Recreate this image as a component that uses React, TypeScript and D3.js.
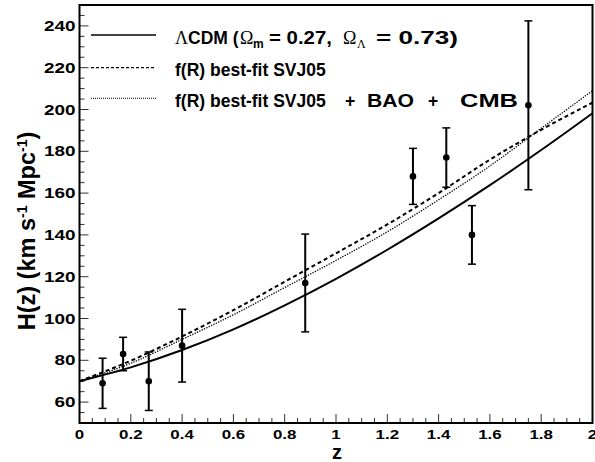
import React from "react";
import * as d3 from "d3";

// curves at z = 0, 0.2, ... 2
const zGrid = [0, 0.2, 0.4, 0.6, 0.8, 1.0, 1.2, 1.4, 1.6, 1.8, 2.0];
const hLCDM = [70, 76.6, 84.9, 94.8, 106.3, 119.0, 132.9, 147.9, 163.8, 180.6, 198.2];
const hSVJ05 = [70, 79.8, 91.4, 104.0, 117.6, 131.2, 145.0, 160.0, 176.0, 190.3, 203.3];
const hSVJ05BaoCmb = [70, 78.6, 90.0, 101.8, 114.8, 127.8, 141.5, 156.8, 173.0, 191.0, 209.0];

// H(z) measurements
const zData = [0.09, 0.17, 0.27, 0.4, 0.88, 1.3, 1.43, 1.53, 1.75];
const hData = [69, 83, 70, 87, 117, 168, 177, 140, 202];
const hErr = [12, 8, 14, 17.4, 23.4, 13.4, 14.2, 14, 40.4];

const xTicks = [0, 0.2, 0.4, 0.6, 0.8, 1, 1.2, 1.4, 1.6, 1.8, 2];
const xTickLabels = ["0", "0.2", "0.4", "0.6", "0.8", "1", "1.2", "1.4", "1.6", "1.8", "2"];
const yTicks = [60, 80, 100, 120, 140, 160, 180, 200, 220, 240];

const legendLabels = ["lcdm", "svj05", "svj05bao"];

function App() {
  const width = 595;
  const height = 462;
  const font = "'Liberation Sans', Arial, Helvetica, sans-serif";
  const serif = "'Liberation Serif', 'Times New Roman', serif";

  const x = d3.scaleLinear().domain([0, 2]).range([79.5, 592.5]);
  const y = d3.scaleLinear().domain([50, 250]).range([423, 5]);

  const line = d3
    .line<number>()
    .x((d, i) => x(zGrid[i]))
    .y((d) => y(d))
    .curve(d3.curveMonotoneX);

  const series = [
    { values: hLCDM, width: 2, dash: "none" },
    { values: hSVJ05, width: 2, dash: "4 3" },
    { values: hSVJ05BaoCmb, width: 1.3, dash: "1.3 1.3" },
  ];
  const legendStyle = [
    { width: 1.4, dash: "none" },
    { width: 1.2, dash: "3 2" },
    { width: 1, dash: "1 1" },
  ];
  const legendY = [35, 67.7, 98.3];
  const legendBase = [44, 76, 106.5];

  const majorX = new Set(xTicks.map((t) => t.toFixed(2)));
  const majorY = new Set(yTicks.map((t) => t.toFixed(1)));

  return (
    <svg
      width={width}
      height={height}
      style={{ position: "absolute", left: 0, top: 0, background: "#fff" }}
      fontFamily={font}
      fontWeight="bold"
    >
      {/* minor + major ticks on x */}
      {x.ticks(40).map((t, i) => (
        <line
          key={"xt" + i}
          x1={x(t)}
          x2={x(t)}
          y1={y(50)}
          y2={y(50) - (majorX.has(t.toFixed(2)) ? 9 : 5)}
          stroke="#333"
          strokeWidth={1}
        />
      ))}
      {y.ticks(40).map((t, i) =>
        t < 50 || t > 250 ? null : (
          <line
            key={"yt" + i}
            x1={x(0)}
            x2={x(0) + (majorY.has(t.toFixed(1)) ? 9 : 5)}
            y1={y(t)}
            y2={y(t)}
            stroke="#333"
            strokeWidth={1}
          />
        )
      )}
      {/* frame */}
      <rect
        x={x(0)}
        y={y(250)}
        width={x(2) - x(0)}
        height={y(50) - y(250)}
        fill="none"
        stroke="#000"
        strokeWidth={2}
      />

      {/* tick labels */}
      {xTicks.map((t, i) => (
        <text
          key={"xl" + i}
          transform={`translate(${x(t)},438.5) scale(1.3,1)`}
          textAnchor="middle"
          fontSize={13}
        >
          {xTickLabels[i]}
        </text>
      ))}
      {yTicks.map((t, i) => (
        <text
          key={"yl" + i}
          transform={`translate(75.5,${y(t)}) scale(1.35,1)`}
          textAnchor="end"
          dy="0.36em"
          fontSize={14}
        >
          {t}
        </text>
      ))}

      {/* axis titles */}
      <text x={337} y={459} textAnchor="middle" fontSize={20}>
        z
      </text>
      <text
        transform="translate(35,231) rotate(-90)"
        textAnchor="middle"
        fontSize={23.5}
      >
        H(z) (km s
        <tspan dy={-8} fontSize={14}>
          -1
        </tspan>
        <tspan dy={8}> Mpc</tspan>
        <tspan dy={-8} fontSize={14}>
          -1
        </tspan>
        <tspan dy={8}>)</tspan>
      </text>

      {/* model curves */}
      {series.map((s, i) => (
        <path
          key={"c" + i}
          d={line(s.values) || ""}
          fill="none"
          stroke="#000"
          strokeWidth={s.width}
          strokeDasharray={s.dash}
        />
      ))}

      {/* data with error bars */}
      {zData.map((z, i) => (
        <g key={"p" + i}>
          <line
            x1={x(z)}
            x2={x(z)}
            y1={y(hData[i] - hErr[i])}
            y2={y(hData[i] + hErr[i])}
            stroke="#000"
            strokeWidth={2}
          />
          <line
            x1={x(z) - 4}
            x2={x(z) + 4}
            y1={y(hData[i] - hErr[i])}
            y2={y(hData[i] - hErr[i])}
            stroke="#000"
            strokeWidth={1.5}
          />
          <line
            x1={x(z) - 4}
            x2={x(z) + 4}
            y1={y(hData[i] + hErr[i])}
            y2={y(hData[i] + hErr[i])}
            stroke="#000"
            strokeWidth={1.5}
          />
          <circle cx={x(z)} cy={y(hData[i])} r={3.3} fill="#000" />
        </g>
      ))}

      {/* legend */}
      {legendLabels.map((k, i) => (
        <line
          key={k}
          x1={91}
          x2={156}
          y1={legendY[i]}
          y2={legendY[i]}
          stroke="#000"
          strokeWidth={legendStyle[i].width}
          strokeDasharray={legendStyle[i].dash}
        />
      ))}
      <g fontSize={17.5}>
        <text x={175} y={legendBase[0]} fontFamily={serif} fontWeight="normal" fontSize={18}>
          Λ
        </text>
        <text x={188} y={legendBase[0]}>
          CDM (
        </text>
        <text x={240} y={legendBase[0]} fontFamily={serif} fontWeight="normal" fontSize={18}>
          Ω
        </text>
        <text x={253} y={legendBase[0] + 4} fontSize={12}>
          m
        </text>
        <text x={269} y={legendBase[0]} textLength={63} lengthAdjust="spacingAndGlyphs">
          = 0.27,
        </text>
        <text x={343} y={legendBase[0]} fontFamily={serif} fontWeight="normal" fontSize={18}>
          Ω
        </text>
        <text x={357} y={legendBase[0] + 4} fontFamily={serif} fontWeight="normal" fontSize={12}>
          Λ
        </text>
        <text x={376} y={legendBase[0]} textLength={82} lengthAdjust="spacingAndGlyphs">
          = 0.73)
        </text>

        <text x={175} y={legendBase[1]}>
          f(R) best-fit SVJ05
        </text>

        <text x={175} y={legendBase[2]}>
          f(R) best-fit SVJ05
        </text>
        <text x={345} y={legendBase[2]}>
          +
        </text>
        <text x={367} y={legendBase[2]} textLength={47} lengthAdjust="spacingAndGlyphs">
          BAO
        </text>
        <text x={428} y={legendBase[2]}>
          +
        </text>
        <text x={460} y={legendBase[2]} textLength={58} lengthAdjust="spacingAndGlyphs">
          CMB
        </text>
      </g>
    </svg>
  );
}

export default App;
